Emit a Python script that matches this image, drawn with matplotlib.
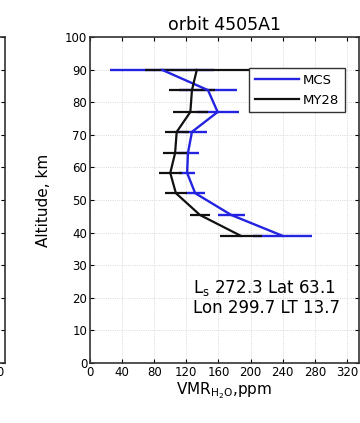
import matplotlib
matplotlib.use('Agg')
import matplotlib.pyplot as plt

plt.rcParams['font.family'] = ['DejaVu Sans']
plt.rcParams['mathtext.fontset'] = 'dejavusans'

# Retrieval levels (km)
alt = [39.0, 45.4, 52.1, 58.3, 64.4, 70.9, 77.0, 83.7, 89.9]

# MCS retrieved water vapour and its uncertainty (ppm)
mcs = [240, 176, 131, 121, 122, 127, 159, 147, 90]
mcs_err = [37, 17, 12, 10, 14, 19, 26, 36, 65]

# MY28 model profile and spread (ppm)
my28 = [188, 137, 107, 100, 106, 108, 125, 127, 133]
my28_err = [26, 13, 14, 14, 15, 15, 22, 29, 65]

xticks = [0, 40, 80, 120, 160, 200, 240, 280, 320]
yticks = [0, 10, 20, 30, 40, 50, 60, 70, 80, 90, 100]

blue = '#2323e0'
black = '#111111'

fig = plt.figure(figsize=(3.6, 4.23), dpi=100)


def style_axes(ax):
    ax.set_xlim(0, 335)
    ax.set_ylim(0, 100)
    ax.set_xticks(xticks)
    ax.set_yticks(yticks)
    ax.tick_params(direction='in', top=True, right=True, length=3,
                   width=0.8, labelsize=8.5, pad=2)
    ax.grid(True, color='#cccccc', linestyle=':', linewidth=0.6)
    for s in ax.spines.values():
        s.set_linewidth(1.2)
        s.set_color('#333333')


# neighbouring panel, only its right edge falls inside the figure
ax0 = fig.add_axes([-0.72, 0.1418, 0.734, 0.7707])
style_axes(ax0)
ax0.set_yticklabels([])
ax0.set_xticklabels([''] * (len(xticks) - 1) + ['320'])

ax = fig.add_axes([0.25, 0.1418, 0.747, 0.7707])
style_axes(ax)

ax.errorbar(mcs, alt, xerr=mcs_err, color=blue, lw=1.7, elinewidth=1.7,
            capsize=0, label='MCS')
ax.errorbar(my28, alt, xerr=my28_err, color=black, lw=1.6, elinewidth=1.6,
            capsize=0, label='MY28')

ax.set_title('orbit 4505A1', fontsize=12.5, pad=5)
ax.set_ylabel('Altitude, km', fontsize=11, labelpad=10)
ax.set_xlabel(r'VMR$_{\mathrm{H_2O}}$,ppm', fontsize=11, labelpad=1)

ax.text(128, 23, r'L$_\mathrm{s}$ 272.3 Lat 63.1', fontsize=12, va='center')
ax.text(128, 17, 'Lon 299.7 LT 13.7', fontsize=12, va='center')

handles, labels = ax.get_legend_handles_labels()
leg = ax.legend([h[0] for h in handles], labels, loc='upper right',
                bbox_to_anchor=(0.948, 0.905), fontsize=9.5, fancybox=False,
                framealpha=1, edgecolor='#333333', borderaxespad=0,
                handlelength=3.3, handletextpad=0.3, labelspacing=0.5,
                borderpad=0.45)
leg.get_frame().set_linewidth(1.0)

fig.savefig('out.png', dpi=100)
